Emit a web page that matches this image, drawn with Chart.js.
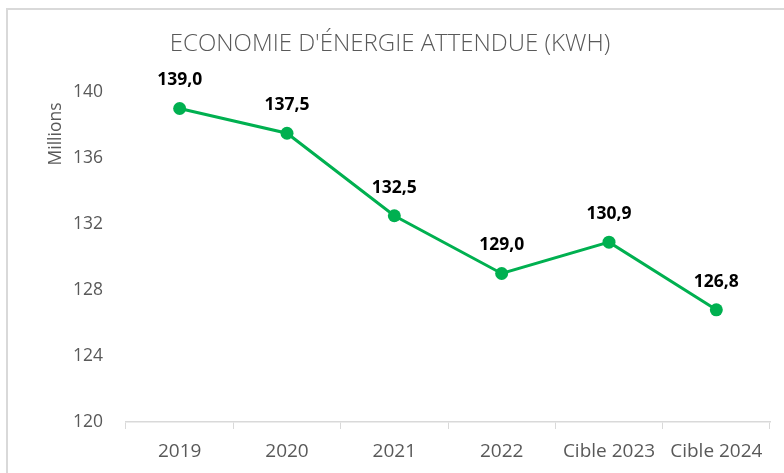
<!DOCTYPE html>
<html>
<head>
<meta charset="utf-8">
<script src="https://cdn.jsdelivr.net/npm/chart.js@4/dist/chart.umd.min.js"></script>
<style>
  html, body { margin: 0; padding: 0; background: #fff; overflow: hidden; }
  #wrap { position: relative; width: 784px; height: 473px; }
  #frame {
    position: absolute; left: 6px; top: 8px; width: 800px; height: 500px;
    border: 2px solid #d9d9d9; box-sizing: border-box;
  }
  canvas { position: absolute; left: 0; top: 0; }
</style>
</head>
<body>
<div id="wrap">
  <div id="frame"></div>
  <canvas id="energyChart" width="784" height="473"></canvas>
</div>
<script>
// Economie d'énergie attendue, en millions de kWh
const categories = ['2019', '2020', '2021', '2022', 'Cible 2023', 'Cible 2024'];
const savings = [139.0, 137.5, 132.5, 129.0, 130.9, 126.8];
const yTicks = [120, 124, 128, 132, 136, 140];

const GREEN = '#00b050';
const GREY_TEXT = '#595959';
const FONT = "'Open Sans', Lato, sans-serif";

// Valeurs au-dessus de chaque point, format français (virgule)
const valueLabels = {
  id: 'valueLabels',
  afterDatasetsDraw(chart) {
    const ctx = chart.ctx;
    const meta = chart.getDatasetMeta(0);
    ctx.save();
    ctx.font = 'bold 17.5px ' + FONT;
    ctx.fillStyle = '#000';
    ctx.textAlign = 'center';
    ctx.textBaseline = 'middle';
    meta.data.forEach((pt, i) => {
      const txt = savings[i].toFixed(1).replace('.', ',');
      ctx.fillText(txt, pt.x, pt.y - 28);
    });
    ctx.restore();
  }
};

// Unité d'affichage "Millions" à côté de l'axe vertical
const unitLabel = {
  id: 'unitLabel',
  afterDraw(chart) {
    const ctx = chart.ctx;
    ctx.save();
    ctx.translate(56, 134);
    ctx.rotate(-Math.PI / 2);
    ctx.font = '17.5px ' + FONT;
    ctx.fillStyle = GREY_TEXT;
    ctx.textAlign = 'center';
    ctx.textBaseline = 'middle';
    ctx.fillText('Millions', 0, 0);
    ctx.restore();
  }
};

new Chart(document.getElementById('energyChart'), {
  type: 'line',
  data: {
    labels: categories,
    datasets: [{
      data: savings,
      borderColor: GREEN,
      backgroundColor: GREEN,
      borderWidth: 3,
      pointRadius: 6.5,
      pointHoverRadius: 6.5,
      pointBackgroundColor: GREEN,
      pointBorderWidth: 0,
      tension: 0
    }]
  },
  options: {
    responsive: false,
    animation: false,
    layout: { padding: { left: 10, right: 14, top: 8, bottom: 11 } },
    plugins: {
      legend: { display: false },
      tooltip: { enabled: false },
      title: {
        display: true,
        text: "ECONOMIE D'ÉNERGIE ATTENDUE (KWH)",
        color: GREY_TEXT,
        font: { family: FONT, size: 24, weight: '300', lineHeight: 1.2 },
        padding: { top: 22, bottom: 33.2 }
      }
    },
    scales: {
      x: {
        offset: true,
        grid: {
          offset: true,
          drawOnChartArea: false,
          drawTicks: true,
          tickLength: 7,
          color: '#d9d9d9'
        },
        border: { color: '#d9d9d9', width: 1.5 },
        ticks: {
          color: GREY_TEXT,
          font: { family: FONT, size: 19 },
          padding: 11,
          maxRotation: 0,
          autoSkip: false
        },
        afterFit(scale) { scale.height = 40; }
      },
      y: {
        min: 120,
        max: 140,
        afterBuildTicks(scale) {
          scale.ticks = yTicks.map(v => ({ value: v }));
        },
        grid: { display: false, drawTicks: false },
        border: { display: false },
        ticks: {
          color: GREY_TEXT,
          font: { family: FONT, size: 17.5 },
          padding: 23
        },
        afterFit(scale) { scale.width = 116; }
      }
    }
  },
  plugins: [valueLabels, unitLabel]
});
</script>
</body>
</html>
